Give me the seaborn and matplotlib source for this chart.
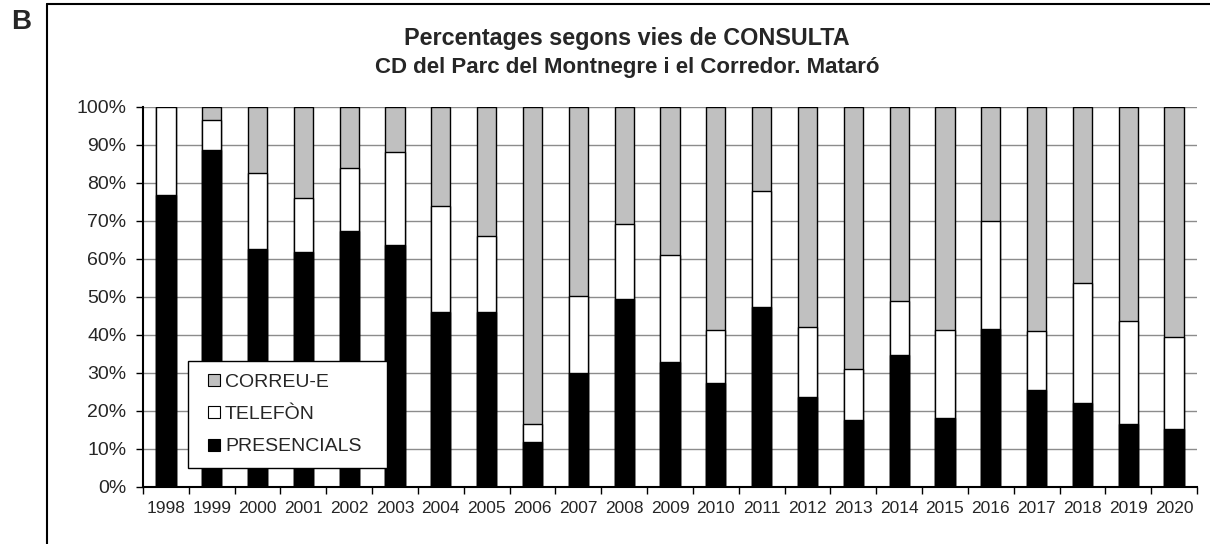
import matplotlib
matplotlib.use("Agg")
import matplotlib.pyplot as plt
import seaborn as sns
import numpy as np
import pandas as pd
from matplotlib.lines import Line2D
from matplotlib.ticker import FixedLocator, PercentFormatter

years = [str(y) for y in range(1998, 2021)]
presencials = [76.8, 88.7, 62.5, 61.8, 67.3, 63.7, 45.9, 45.9, 11.7, 29.9, 49.4, 32.7,
               27.4, 47.4, 23.6, 17.6, 34.7, 18.0, 41.5, 25.5, 22.0, 16.4, 15.2]
telefon = [23.2, 7.7, 20.1, 14.3, 16.5, 24.5, 28.0, 20.1, 4.9, 20.4, 19.6, 28.4,
           13.9, 30.4, 18.4, 13.4, 14.2, 23.3, 28.5, 15.4, 31.5, 27.3, 24.1]
correu = [0.0, 3.6, 17.4, 23.9, 16.2, 11.8, 26.1, 34.0, 83.4, 49.7, 31.0, 38.9,
          58.7, 22.2, 58.0, 69.0, 51.1, 58.7, 30.0, 59.1, 46.5, 56.3, 60.7]
series_names = ["CORREU-E", "TELEFÒN", "PRESENCIALS"]
series_colors = ["#c0c0c0", "#ffffff", "#000000"]
title_lines = ["Percentages segons vies de CONSULTA",
               "CD del Parc del Montnegre i el Corredor. Mataró"]

sns.set_style("white")
plt.rcParams['font.family'] = ['Liberation Sans', 'DejaVu Sans']

df = pd.DataFrame({"year": years, "pres": presencials, "tel": telefon, "cor": correu})
df["cum_pres"] = df["pres"]
df["cum_tel"] = df["pres"] + df["tel"]
df["cum_all"] = df["pres"] + df["tel"] + df["cor"]

fig = plt.figure(figsize=(12.10, 5.44), dpi=100)
ax = fig.add_axes([143/1210, 1-486.7/544, (1197-143)/1210, (486.7-106.7)/544])

w = 0.42
for col, color in zip(["cum_all", "cum_tel", "cum_pres"], series_colors):
    sns.barplot(data=df, x="year", y=col, color=color, width=w, ax=ax,
                edgecolor="black", linewidth=1.0, saturation=1, zorder=3)

ax.set_xlim(-0.5, len(years) - 0.5)
ax.set_ylim(0, 100)
ax.set_xlabel("")
ax.set_ylabel("")
ax.yaxis.set_major_locator(FixedLocator(np.arange(0, 101, 10)))
ax.yaxis.set_major_formatter(PercentFormatter(decimals=0))
ax.grid(axis="y", color="#8c8c8c", linewidth=1.0, zorder=0)
ax.set_axisbelow(True)
for s in ["top", "right"]:
    ax.spines[s].set_visible(False)
for s in ["left", "bottom"]:
    ax.spines[s].set_color("black")
    ax.spines[s].set_linewidth(1.5)
    ax.spines[s].set_zorder(5)

ax.tick_params(axis="y", which="major", length=5, width=1, color="black",
               labelsize=14, pad=7, left=True, direction="out")
ax.tick_params(axis="x", which="major", length=0, labelsize=12.5, pad=10)
ax.xaxis.set_minor_locator(FixedLocator(np.arange(-0.5, len(years), 1.0)))
ax.tick_params(axis="x", which="minor", length=5, width=1, color="black",
               bottom=True, direction="out")

handles = [Line2D([], [], linestyle="none", marker="s", markersize=8,
                  markerfacecolor=c, markeredgecolor="black", markeredgewidth=0.8, label=n)
           for n, c in zip(series_names, series_colors)]
leg = ax.legend(handles=handles, loc="lower left", numpoints=1,
                bbox_to_anchor=((188-143)/1054, (486.7-468)/380, (387-188)/1054, (468-361)/380),
                mode="expand", frameon=True, fancybox=False, framealpha=1,
                edgecolor="black", fontsize=14, handlelength=1.4,
                handletextpad=-0.15, labelspacing=0.75, borderpad=0.65, borderaxespad=0)
leg.get_frame().set_linewidth(1.0)
leg.set_zorder(10)

fig.text(627/1210, 1-39/544, title_lines[0], ha="center", va="center",
         fontsize=16.8, fontweight="bold")
fig.text(627/1210, 1-68/544, title_lines[1], ha="center", va="center",
         fontsize=16, fontweight="bold")
fig.text(21/1210, 1-22/544, "B", ha="center", va="center", fontsize=20, fontweight="bold")

fig.add_artist(Line2D([47/1210, 1.0], [1-4/544, 1-4/544], color="black", linewidth=1.5,
                      transform=fig.transFigure))
fig.add_artist(Line2D([47/1210, 47/1210], [0, 1-4/544], color="black", linewidth=1.5,
                      transform=fig.transFigure))

fig.savefig("out.png", dpi=100)
